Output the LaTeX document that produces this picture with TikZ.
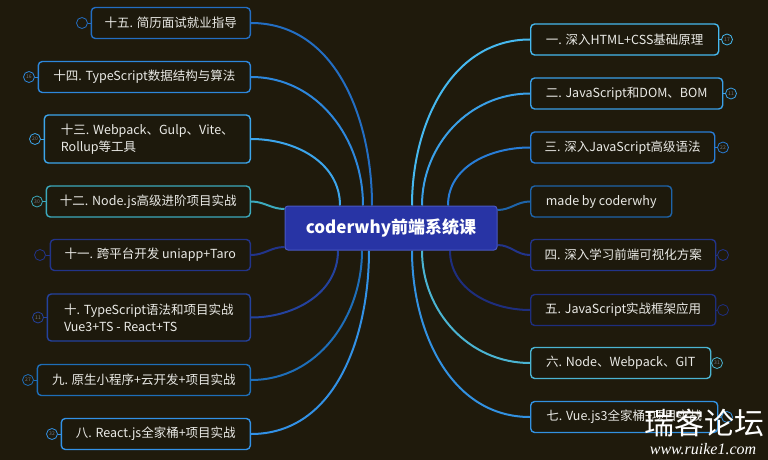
\documentclass[tikz,border=0pt]{standalone}
\usepackage{fontspec}
\setmainfont{Noto Sans CJK SC}
\newfontfamily\markfont{Liberation Serif}

\definecolor{bg}{RGB}{31,26,12}
\definecolor{boxfill}{RGB}{29,25,12}
\definecolor{txt}{RGB}{234,234,230}
\definecolor{rootfill}{RGB}{40,52,165}
\definecolor{rootline}{RGB}{72,88,195}
\definecolor{badgetxt}{RGB}{110,120,135}
% branch colours, right side
\definecolor{col1}{RGB}{70,185,240}
\definecolor{col2}{RGB}{58,160,232}
\definecolor{col3}{RGB}{40,125,215}
\definecolor{colm}{RGB}{30,100,170}
\definecolor{col4}{RGB}{34,52,138}
\definecolor{col5}{RGB}{30,46,126}
\definecolor{col6}{RGB}{75,180,210}
\definecolor{col7}{RGB}{50,145,225}
% branch colours, left side
\definecolor{col8}{RGB}{50,145,230}
\definecolor{col9}{RGB}{30,110,185}
\definecolor{col10}{RGB}{36,66,158}
\definecolor{col11}{RGB}{34,52,138}
\definecolor{col12}{RGB}{60,170,190}
\definecolor{col13}{RGB}{60,165,235}
\definecolor{col14}{RGB}{45,135,220}
\definecolor{col15}{RGB}{35,110,195}

\pgfdeclarelayer{back}
\pgfsetlayers{back,main}

\begin{document}
\begin{tikzpicture}[
  x=1pt, y=-1pt,
  topic/.style={draw, fill=boxfill, rounded corners=4pt, line width=1.4pt, minimum height=31pt, inner xsep=11pt, text=txt, font=\fontsize{12.5}{17}\selectfont, align=left},
  root/.style={draw=rootline, fill=rootfill, rounded corners=3pt, line width=1pt, minimum width=212pt, minimum height=44pt, text=white, font=\fontsize{17}{20}\selectfont\bfseries},
  badge/.style={circle, draw, line width=0.8pt, minimum size=11pt, inner sep=0pt, text=badgetxt, font=\fontsize{5}{5}\selectfont},
  link/.style={line width=2pt},
  tick/.style={line width=0.8pt}
]
\useasboundingbox (0,0) rectangle (768,460);

% Central topic
\node[root] (root) at (391,228) {coderwhy前端系统课};

% Right topics
\node[topic, draw=col1, anchor=west, minimum width=188pt] (r1) at (530,39.5) {一. 深入HTML+CSS基础原理};
\node[topic, draw=col2, anchor=west, minimum width=192pt] (r2) at (530,93.5) {二. JavaScript和DOM、BOM};
\node[topic, draw=col3, anchor=west, minimum width=184pt] (r3) at (530,147.5) {三. 深入JavaScript高级语法};
\node[topic, draw=colm, anchor=west, minimum width=141pt] (made) at (530,201.5) {made by coderwhy};
\node[topic, draw=col4, anchor=west, minimum width=185pt] (r4) at (530,255) {四. 深入学习前端可视化方案};
\node[topic, draw=col5, anchor=west, minimum width=185pt] (r5) at (530,310) {五. JavaScript实战框架应用};
\node[topic, draw=col6, anchor=west, minimum width=180pt] (r6) at (530,363) {六. Node、Webpack、GIT};
\node[topic, draw=col7, anchor=west, minimum width=187pt] (r7) at (530,417) {七. Vue.js3全家桶+项目实战};

% Left topics
\node[topic, draw=col15, anchor=east, minimum width=159pt] (l15) at (251,23) {十五. 简历面试就业指导};
\node[topic, draw=col14, anchor=east, minimum width=212pt] (l14) at (251,77) {十四. TypeScript数据结构与算法};
\node[topic, draw=col13, anchor=east, minimum width=206pt, minimum height=48pt] (l13) at (251,139) {十三. Webpack、Gulp、Vite、\\Rollup等工具};
\node[topic, draw=col12, anchor=east, minimum width=204pt] (l12) at (251,201.5) {十二. Node.js高级进阶项目实战};
\node[topic, draw=col11, anchor=east, minimum width=200pt] (l11) at (251,255) {十一. 跨平台开发 uniapp+Taro};
\node[topic, draw=col10, anchor=east, minimum width=203pt, minimum height=47pt] (l10) at (251,317.5) {十. TypeScript语法和项目实战\\Vue3+TS - React+TS};
\node[topic, draw=col9, anchor=east, minimum width=213pt] (l9) at (251,380) {九. 原生小程序+云开发+项目实战};
\node[topic, draw=col8, anchor=east, minimum width=189pt] (l8) at (251,434) {八. React.js全家桶+项目实战};

% Badges
\node[badge, draw=col1] (r1b) at (727,39.5) {17};
\node[badge, draw=col2] (r2b) at (731,93.5) {11};
\node[badge, draw=col3] (r3b) at (723,147.5) {22};
\node[badge, draw=col4] (r4b) at (723,255) {};
\node[badge, draw=col5] (r5b) at (723,310) {};
\node[badge, draw=col6] (r6b) at (717,363) {31};
\node[badge, draw=col7] (r7b) at (727,417) {};
\node[badge, draw=col15] (l15b) at (82,23) {};
\node[badge, draw=col14] (l14b) at (29,77) {16};
\node[badge, draw=col13] (l13b) at (35,139) {20};
\node[badge, draw=col12] (l12b) at (37,201.5) {30};
\node[badge, draw=col11] (l11b) at (40,255) {};
\node[badge, draw=col10] (l10b) at (38,317.5) {11};
\node[badge, draw=col9] (l9b) at (28,380) {27};
\node[badge, draw=col8] (l8b) at (52,434) {32};

% Watermark
\node[text=white, font=\fontsize{30}{30}\selectfont] (mark) at (704,423) {瑞客论坛};
\node[text=white, font=\markfont\itshape\fontsize{16}{16}\selectfont] (site) at (703,449) {www.ruike1.com};

\begin{pgfonlayer}{back}
\fill[bg] (0,0) rectangle (768,460);
% right branches
\draw[link, col1] ([xshift=21pt]root.north) to[out=90, in=180] (r1.west);
\draw[link, col2] ([xshift=31pt]root.north) to[out=90, in=180] (r2.west);
\draw[link, col3] ([xshift=57pt]root.north) to[out=90, in=180] (r3.west);
\draw[link, colm] ([yshift=18pt]root.east) to[out=0, in=180] (made.west);
\draw[link, col4] ([yshift=-17pt]root.east) to[out=0, in=180] (r4.west);
\draw[link, col5] ([xshift=59pt]root.south) to[out=-90, in=180] (r5.west);
\draw[link, col6] ([xshift=31pt]root.south) to[out=-90, in=180] (r6.west);
\draw[link, col7] ([xshift=21pt]root.south) to[out=-90, in=180] (r7.west);
% left branches
\draw[link, col15] ([xshift=-19pt]root.north) to[out=90, in=0] (l15.east);
\draw[link, col14] ([xshift=-28pt]root.north) to[out=90, in=0] (l14.east);
\draw[link, col13] ([xshift=-51pt]root.north) to[out=90, in=0] (l13.east);
\draw[link, col12] ([yshift=19pt]root.west) to[out=180, in=0] (l12.east);
\draw[link, col11] ([yshift=-19pt]root.west) to[out=180, in=0] (l11.east);
\draw[link, col10] ([xshift=-53pt]root.south) to[out=-90, in=0] (l10.east);
\draw[link, col9] ([xshift=-29pt]root.south) to[out=-90, in=0] (l9.east);
\draw[link, col8] ([xshift=-22pt]root.south) to[out=-90, in=0] (l8.east);
% badge ticks
\foreach \n/\c in {r1/col1, r2/col2, r3/col3, r4/col4, r5/col5, r6/col6, r7/col7, l8/col8, l9/col9, l10/col10, l11/col11, l12/col12, l13/col13, l14/col14, l15/col15}
  \draw[tick, \c] (\n) -- (\n b);
\end{pgfonlayer}

\end{tikzpicture}
\end{document}
